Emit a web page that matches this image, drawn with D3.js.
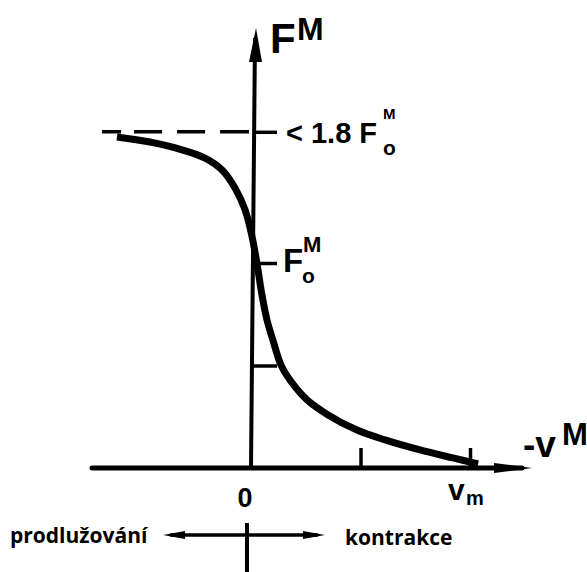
<!DOCTYPE html>
<html><head><meta charset="utf-8">
<script src="https://cdn.jsdelivr.net/npm/d3@7"></script>
<style>html,body{margin:0;background:#fff}svg{display:block}</style>
</head><body>
<svg id="chart" width="587" height="572"></svg>
<script>
// Force–velocity relation of muscle.
// Velocity in units of v_m (shortening positive), force in units of F_o^M.
const velocity = [-0.612, -0.461, -0.311, -0.210, -0.132, -0.073, -0.027, 0.005, 0.027, 0.050, 0.073,
                  0.100, 0.137, 0.178, 0.256, 0.352, 0.484, 0.612, 0.772, 0.922, 1.037];
const force    = [1.615, 1.590, 1.551, 1.512, 1.454, 1.366, 1.259, 1.127, 1.000, 0.844, 0.722,
                  0.624, 0.502, 0.429, 0.332, 0.259, 0.185, 0.137, 0.088, 0.049, 0.020];
const xTickValues = [0.5, 1];
const yTickValues = [0.5, 1, 1.64];
const asymptoteForce = 1.64;          // eccentric plateau, labelled "< 1.8 F_o^M"
const dashStartVelocity = -0.68;

const svg = d3.select("#chart");
const ink = "#000";
const labelFont = "'Liberation Sans', Arial, sans-serif";
const noteFont = "'Open Sans', Lato, sans-serif";

const x = d3.scaleLinear().domain([0, 1]).range([251, 470]);
const y = d3.scaleLinear().domain([0, 1]).range([468, 263]);

// axis extents (pixels)
const xAxisLeft = 92, xAxisRight = 532;
const yAxisTop = 28;

// horizontal axis with arrow
svg.append("line")
  .attr("x1", xAxisLeft).attr("x2", xAxisRight - 10)
  .attr("y1", y(0)).attr("y2", y(0))
  .attr("stroke", ink).attr("stroke-width", 5).attr("stroke-linecap", "round");
svg.append("path")
  .attr("d", `M${xAxisRight},${y(0)} L${xAxisRight - 38},${y(0) - 5} L${xAxisRight - 38},${y(0) + 5} Z`)
  .attr("fill", ink);

// vertical axis with arrow (drawn with the slight lean of the original sketch)
svg.append("line")
  .attr("x1", x(0)).attr("x2", x(0) + 4)
  .attr("y1", y(0)).attr("y2", yAxisTop + 10)
  .attr("stroke", ink).attr("stroke-width", 4);
svg.append("path")
  .attr("d", `M${x(0) + 5},${yAxisTop} L${x(0) - 2},${yAxisTop + 34} L${x(0) + 11},${yAxisTop + 34} Z`)
  .attr("fill", ink);

// ticks pointing into the plot
const xAxis = d3.axisBottom(x).tickValues(xTickValues).tickSizeInner(-20).tickSizeOuter(0).tickFormat("");
const gx = svg.append("g").attr("transform", `translate(0,${y(0)})`).call(xAxis);
gx.select(".domain").remove();
gx.selectAll(".tick line").attr("stroke", ink).attr("stroke-width", 3.5);

const yAxis = d3.axisLeft(y).tickValues(yTickValues).tickSizeInner(-24).tickSizeOuter(0).tickFormat("");
const gy = svg.append("g").attr("transform", `translate(${x(0) + 2},0)`).call(yAxis);
gy.select(".domain").remove();
gy.selectAll(".tick line").attr("stroke", ink).attr("stroke-width", 3.5);

// dashed asymptote
svg.append("line")
  .attr("x1", x(dashStartVelocity)).attr("x2", x(0) - 2)
  .attr("y1", y(asymptoteForce)).attr("y2", y(asymptoteForce))
  .attr("stroke", ink).attr("stroke-width", 3.5)
  .attr("stroke-dasharray", "19,13,28,15,28,15,30,15");

// force–velocity curve
const pts = velocity.map((v, i) => [v, force[i]]);
const line = d3.line().x(d => x(d[0])).y(d => y(d[1])).curve(d3.curveCatmullRom.alpha(0.5));
svg.append("path")
  .attr("d", line(pts))
  .attr("fill", "none").attr("stroke", ink).attr("stroke-width", 7)
  .attr("stroke-linecap", "butt").attr("stroke-linejoin", "round");

// labels
function label(txt, px, py, size, opts = {}) {
  return svg.append("text")
    .attr("x", px).attr("y", py)
    .attr("font-family", opts.family || labelFont)
    .attr("font-weight", "bold")
    .attr("font-size", size)
    .attr("text-anchor", opts.anchor || "start")
    .attr("fill", ink)
    .text(txt);
}
// F^M axis title
label("F", 270, 53, 42);
label("M", 297, 40, 32);
// plateau label
label("< 1.8 F", 286, 143, 29);
label("M", 383, 119, 15);
label("o", 383, 155, 21);
// F_o^M
label("F", 283, 272, 33);
label("M", 303, 252, 22);
label("o", 302, 283, 21);
// velocity axis
label("-v", 523, 457, 37);
label("M", 562, 445, 31);
label("0", x(0) - 6, 507, 27, { anchor: "middle" });
label("v", 448, 500, 30);
label("m", 466, 505, 20);

// direction marker below the axis
const markX = 247, markY = 535;
svg.append("line").attr("x1", markX).attr("x2", markX).attr("y1", 523).attr("y2", 572)
  .attr("stroke", ink).attr("stroke-width", 4);
svg.append("line").attr("x1", 170).attr("x2", 318).attr("y1", markY).attr("y2", markY)
  .attr("stroke", ink).attr("stroke-width", 3.5);
svg.append("path").attr("d", `M163,${markY} L185,${markY - 4} L185,${markY + 4} Z`).attr("fill", ink);
svg.append("path").attr("d", `M325,${markY} L303,${markY - 4} L303,${markY + 4} Z`).attr("fill", ink);
label("prodlužování", 10, 543, 21, { family: noteFont });
label("kontrakce", 345, 545, 21, { family: noteFont });
</script>
</body></html>
